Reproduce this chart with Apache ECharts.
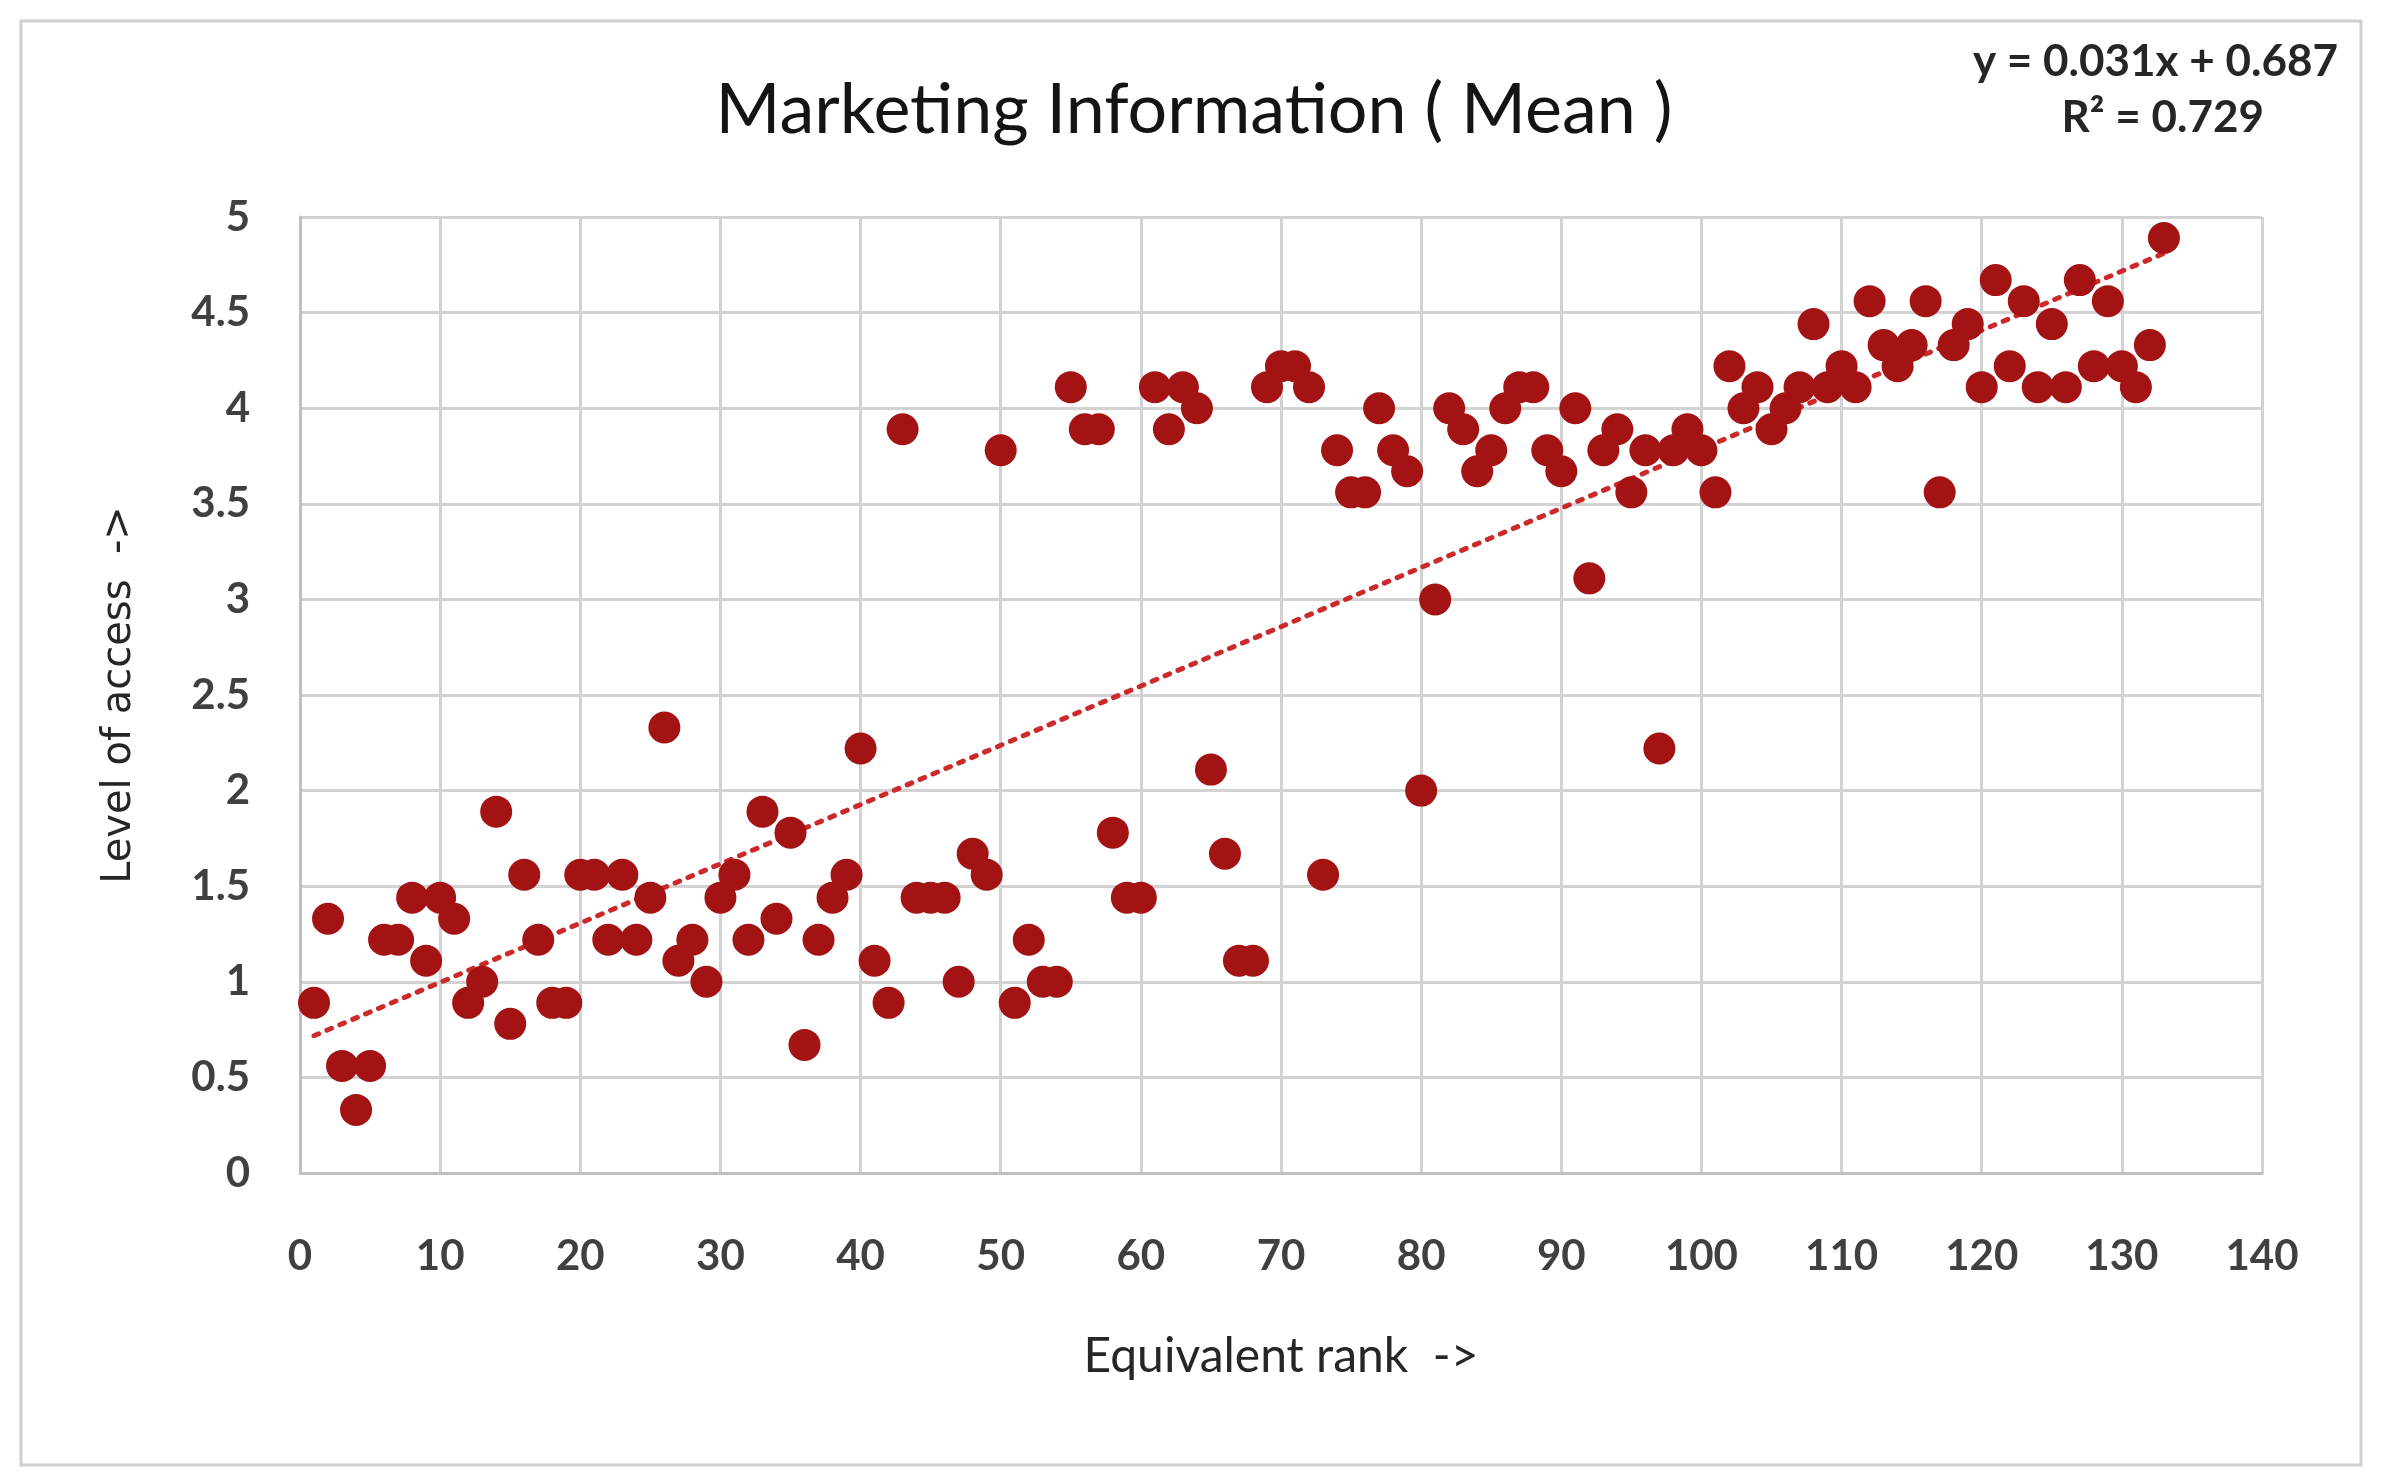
<!DOCTYPE html>
<html>
<head>
<meta charset="utf-8">
<title>Marketing Information ( Mean )</title>
<script src="https://cdn.jsdelivr.net/npm/echarts@6/dist/echarts.min.js"></script>
<style>
    html, body { margin: 0; padding: 0; background: #fff; }
    #chart { width: 2381px; height: 1479px; }
</style>
</head>
<body>
<div id="chart"></div>
<script>
// Data (level of access vs. equivalent rank)
const ranks = [
    1, 2, 3, 4, 5, 6, 7, 8, 9, 10, 11, 12, 13, 14, 15, 16, 17, 18, 19, 20,
    21, 22, 23, 24, 25, 26, 27, 28, 29, 30, 31, 32, 33, 34, 35, 36, 37, 38, 39, 40,
    41, 42, 43, 44, 45, 46, 47, 48, 49, 50, 51, 52, 53, 54, 55, 56, 57, 58, 59, 60,
    61, 62, 63, 64, 65, 66, 67, 68, 69, 70, 71, 72, 73, 74, 75, 76, 77, 78, 79, 80,
    81, 82, 83, 84, 85, 86, 87, 88, 89, 90, 91, 92, 93, 94, 95, 96, 97, 98, 99, 100,
    101, 102, 103, 104, 105, 106, 107, 108, 109, 110, 111, 112, 113, 114, 115, 116, 117, 118, 119, 120,
    121, 122, 123, 124, 125, 126, 127, 128, 129, 130, 131, 132, 133
];
const accessLevel = [
    0.89, 1.33, 0.56, 0.33, 0.56, 1.22, 1.22, 1.44, 1.11, 1.44,   // 1-10
    1.33, 0.89, 1.00, 1.89, 0.78, 1.56, 1.22, 0.89, 0.89, 1.56,   // 11-20
    1.56, 1.22, 1.56, 1.22, 1.44, 2.33, 1.11, 1.22, 1.00, 1.44,   // 21-30
    1.56, 1.22, 1.89, 1.33, 1.78, 0.67, 1.22, 1.44, 1.56, 2.22,   // 31-40
    1.11, 0.89, 3.89, 1.44, 1.44, 1.44, 1.00, 1.67, 1.56, 3.78,   // 41-50
    0.89, 1.22, 1.00, 1.00, 4.11, 3.89, 3.89, 1.78, 1.44, 1.44,   // 51-60
    4.11, 3.89, 4.11, 4.00, 2.11, 1.67, 1.11, 1.11, 4.11, 4.22,   // 61-70
    4.22, 4.11, 1.56, 3.78, 3.56, 3.56, 4.00, 3.78, 3.67, 2.00,   // 71-80
    3.00, 4.00, 3.89, 3.67, 3.78, 4.00, 4.11, 4.11, 3.78, 3.67,   // 81-90
    4.00, 3.11, 3.78, 3.89, 3.56, 3.78, 2.22, 3.78, 3.89, 3.78,   // 91-100
    3.56, 4.22, 4.00, 4.11, 3.89, 4.00, 4.11, 4.44, 4.11, 4.22,   // 101-110
    4.11, 4.56, 4.33, 4.22, 4.33, 4.56, 3.56, 4.33, 4.44, 4.11,   // 111-120
    4.67, 4.22, 4.56, 4.11, 4.44, 4.11, 4.67, 4.22, 4.56, 4.22,   // 121-130
    4.11, 4.33, 4.89                                              // 131-133
];

// Linear trendline as printed on the chart
const trendSlope = 0.031;
const trendIntercept = 0.687;
const trendRange = [1, 133];
const trendLabel = 'y = 0.031x + 0.687';
const r2Label = 'R² = 0.729';

const xTicks = { min: 0, max: 140, interval: 10 };
const yTicks = { min: 0, max: 5, interval: 0.5 };

const chart = echarts.init(document.getElementById('chart'));

const points = ranks.map((r, i) => [r, accessLevel[i]]);
const trendPoints = trendRange.map(x => [x, trendSlope * x + trendIntercept]);

const tickFont = { color: '#404040', fontSize: 42, fontWeight: 'bold', fontFamily: 'Lato' };

chart.setOption({
    animation: false,
    backgroundColor: '#fff',
    title: {
        text: 'Marketing Information ( Mean )',
        top: 70,
        left: 1189,
        textAlign: 'center',
        textStyle: { fontFamily: 'Lato', fontSize: 70, fontWeight: 'normal', color: '#141414' }
    },
    graphic: [
        {
            type: 'rect',
            shape: { x: 21, y: 21, width: 2340, height: 1444 },
            style: { fill: 'none', stroke: '#d0d0d0', lineWidth: 3 },
            silent: true
        },
        {
            type: 'text',
            right: 43,
            top: 40,
            style: {
                text: trendLabel,
                font: 'bold 44px Lato',
                fill: '#262626',
                align: 'right'
            }
        },
        {
            type: 'text',
            right: 117,
            top: 96,
            style: {
                text: r2Label,
                font: 'bold 44px Lato',
                fill: '#262626',
                align: 'right'
            }
        }
    ],
    grid: { left: 300, right: 119, top: 217, bottom: 306 },
    xAxis: {
        type: 'value',
        min: xTicks.min,
        max: xTicks.max,
        interval: xTicks.interval,
        name: 'Equivalent rank  ->',
        nameLocation: 'middle',
        nameGap: 160,
        nameTextStyle: { fontFamily: 'Lato', fontSize: 48, color: '#262626' },
        axisLine: { show: true, lineStyle: { color: '#bfbfbf', width: 3 } },
        axisTick: { show: false },
        axisLabel: Object.assign({ margin: 62 }, tickFont),
        splitLine: { show: true, lineStyle: { color: '#d2d2d2', width: 3 } }
    },
    yAxis: {
        type: 'value',
        min: yTicks.min,
        max: yTicks.max,
        interval: yTicks.interval,
        name: 'Level of access  ->',
        nameLocation: 'middle',
        nameRotate: 90,
        nameGap: 160,
        nameTextStyle: { fontFamily: 'DejaVu Sans', fontSize: 40, color: '#262626' },
        axisLine: { show: true, lineStyle: { color: '#bfbfbf', width: 3 } },
        axisTick: { show: false },
        axisLabel: Object.assign({ margin: 50 }, tickFont),
        splitLine: { show: true, lineStyle: { color: '#d2d2d2', width: 3 } }
    },
    series: [
        {
            type: 'line',
            data: trendPoints,
            symbol: 'none',
            z: 3,
            lineStyle: { color: '#cc2a2a', width: 5, type: [5, 9], cap: 'round' },
            silent: true
        },
        {
            type: 'scatter',
            data: points,
            symbol: 'circle',
            symbolSize: 32,
            z: 4,
            itemStyle: { color: '#a31313', opacity: 1 }
        }
    ]
});
</script>
</body>
</html>
